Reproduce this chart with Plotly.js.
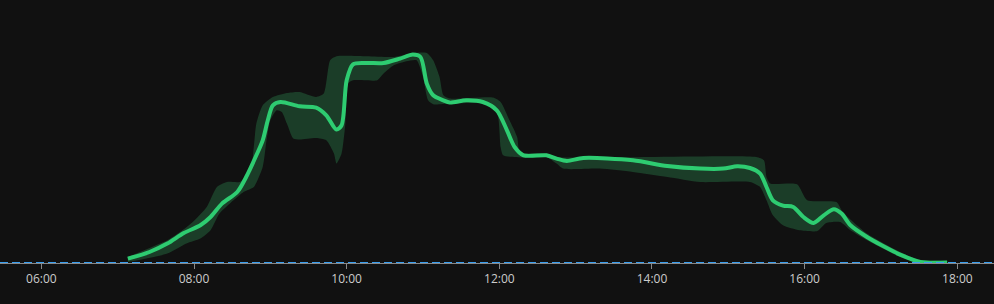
<!DOCTYPE html>
<html>
<head>
<meta charset="utf-8">
<script src="https://cdn.plot.ly/plotly-3.0.1.min.js"></script>
<style>
html,body{margin:0;padding:0;background:#111111;}
#chart{width:994px;height:304px;}
</style>
</head>
<body>
<div id="chart"></div>
<script>
// Main series (time of day, value)
var lineTimes = ["07:08","07:25","07:39","07:52","08:05","08:13","08:22","08:34","08:41","08:49","08:54","08:58","09:02","09:08","09:23","09:36","09:44","09:52","09:56","10:00","10:05","10:16","10:29","10:42","10:52","10:58","11:03","11:08","11:16","11:21","11:34","11:47","11:58","12:06","12:12","12:19","12:37","12:45","12:53","13:06","13:45","14:12","14:38","14:56","15:07","15:17","15:25","15:30","15:35","15:43","15:51","15:59","16:07","16:15","16:23","16:29","16:36","16:49","17:02","17:15","17:31","17:52"];
var lineValues = [4.4,11,19.4,30,37.7,46,59.4,71,86,107.7,122.7,142.7,157.7,161,156.7,155.4,147.7,133.4,137.7,182.7,198.7,200,200,204.4,208.4,206,179.4,167.7,162.7,160.4,162.7,161,152.7,132.7,116,107.7,107.7,104.4,102,105,102.7,97,94.4,94.4,96.7,95,89.4,76,62.7,57.4,56,46,40,47.7,53.7,49.4,37.7,26,16.7,8.4,1,0.4];

// Band upper envelope
var upperTimes = ["07:08","07:39","07:49","07:59","08:10","08:18","08:26","08:36","08:44","08:47","08:49","08:54","09:02","09:13","09:23","09:36","09:42","09:47","09:52","10:16","10:37","10:52","11:03","11:08","11:13","11:16","11:21","11:55","12:01","12:08","12:14","12:16","12:19","12:37","12:45","15:22","15:28","15:30","15:33","15:54","16:02","16:25","16:30","16:49","17:15","17:31","17:52"];
var upperValues = [6,22.7,31,41,56,76,81,81,89.4,116,139.4,157.7,166,170,171,166,169.4,202.7,206.7,206.7,206,210,210,202.7,186,167.7,164.4,165.4,161,142.7,126,109.4,109.7,109.4,106,106,102.7,86,79.4,78.7,62.7,61,51,29.4,11,2.7,2];

// Band lower envelope
var lowerTimes = ["07:08","07:39","07:54","08:05","08:13","08:20","08:31","08:39","08:47","08:54","08:57","09:00","09:05","09:09","09:13","09:18","09:23","09:36","09:44","09:50","09:52","09:56","09:59","10:01","10:05","10:24","10:29","10:37","10:47","10:55","11:00","11:04","11:08","11:21","11:47","11:58","12:01","12:03","12:19","12:37","12:45","12:50","13:19","13:45","14:12","14:38","15:17","15:25","15:30","15:35","15:43","15:56","16:10","16:17","16:28","16:36","16:49","17:15","17:31","17:52"];
var lowerValues = [1,9.4,19.4,24.4,32.7,49.4,62.7,71,76,96,122.7,142.7,152.7,151,139.4,124.4,123.4,125,122.7,109.4,99.4,109.4,139.4,179.4,182.7,182.7,189.4,197.7,201.7,202.7,186,162.7,158.7,159.4,159.4,151,116,107.7,105.4,106,99.4,94.4,94.4,91,86,81,81,76,62.7,47.7,37.7,32.7,32,40,41,32.7,22.7,6,0,0];

var tickValuesTimes = ["06:00","08:00","10:00","12:00","14:00","16:00","18:00"];

var day = "2024-06-01 ";
function ts(arr){ return arr.map(function(t){ return day + t; }); }

var bandX = ts(upperTimes).concat(ts(lowerTimes).slice().reverse());
var bandY = upperValues.concat(lowerValues.slice().reverse());

var traces = [
  {
    x: bandX, y: bandY, type: "scatter", mode: "lines",
    fill: "toself", fillcolor: "#1b3d28",
    line: {width: 0, color: "#1b3d28", shape: "spline", smoothing: 0.6},
    hoverinfo: "skip", showlegend: false
  },
  {
    x: ts(lineTimes), y: lineValues, type: "scatter", mode: "lines",
    line: {width: 4, color: "#2ecc71", shape: "spline", smoothing: 0.8},
    showlegend: false
  }
];

var layout = {
  width: 994, height: 304,
  paper_bgcolor: "#111111", plot_bgcolor: "#111111",
  margin: {l: 0, r: 0, t: 0, b: 41},
  showlegend: false,
  font: {family: "Open Sans, Noto Sans, sans-serif", color: "#cccccc", size: 12},
  xaxis: {
    type: "date",
    range: [day + "05:27:30", day + "18:28:50"],
    tickvals: ts(tickValuesTimes),
    ticktext: tickValuesTimes,
    showgrid: false, zeroline: false,
    showline: true, linecolor: "#888888", linewidth: 1,
    ticks: "outside", ticklen: 5, tickcolor: "#888888",
    tickfont: {size: 12, color: "#cccccc"}
  },
  yaxis: {
    range: [0, 263], visible: false, showgrid: false, zeroline: false
  },
  shapes: [{
    type: "line", xref: "paper", x0: 0, x1: 1, yref: "y", y0: 0, y1: 0,
    line: {color: "#3a9ff0", width: 2, dash: "8px,4px"}, layer: "above"
  }]
};

Plotly.newPlot("chart", traces, layout, {staticPlot: true, displayModeBar: false});
</script>
</body>
</html>
